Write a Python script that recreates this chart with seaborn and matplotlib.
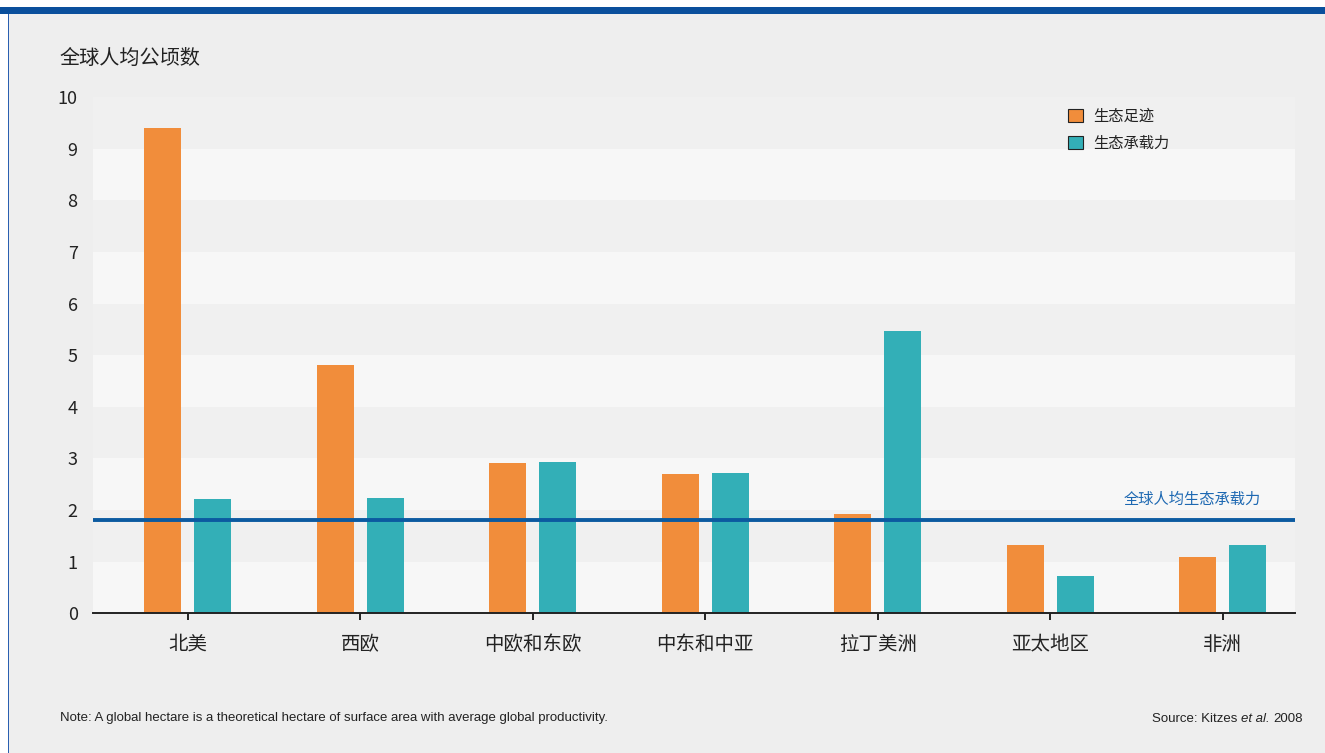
"""
生态足迹与生态承载力 - 按地区 (全球人均公顷数).
"""

import pandas as pd
import matplotlib
matplotlib.use("Agg")
import matplotlib.pyplot as plt
from matplotlib.patches import Patch, Rectangle
import seaborn as sns

# données
regions = ["北美", "西欧", "中欧和东欧", "中东和中亚", "拉丁美洲", "亚太地区", "非洲"]
footprint = [9.4, 4.81, 2.91, 2.70, 1.92, 1.32, 1.09]
biocapacity = [2.21, 2.23, 2.93, 2.72, 5.47, 0.72, 1.32]
series_names = ["生态足迹", "生态承载力"]
world_biocapacity = 1.8
yticks = list(range(0, 11))

ORANGE = "#f18d3b"
TEAL = "#33afb7"
BLUE_LINE = "#0b5aa0"
BLUE_TEXT = "#1d68b2"
BG = "#eeeeee"

sns.set_theme(style="white")
plt.rcParams["font.family"] = ["Noto Sans CJK SC", "DejaVu Sans"]

df = pd.DataFrame({
    "region": regions * 2,
    "value": footprint + biocapacity,
    "serie": [series_names[0]] * len(regions) + [series_names[1]] * len(regions),
})

fig = plt.figure(figsize=(13.25, 7.53), dpi=100, facecolor="white")

# panneau gris + cadre bleu
fig.patches.append(Rectangle((9 / 1325, 0), 1, 1 - 14 / 753, transform=fig.transFigure,
                             facecolor=BG, edgecolor="none", zorder=-10))
fig.patches.append(Rectangle((0, 1 - 14 / 753), 1, 7 / 753, transform=fig.transFigure,
                             facecolor="#0a4f9c", edgecolor="none", zorder=-9))
fig.patches.append(Rectangle((8 / 1325, 0), 1 / 1325, 1 - 14 / 753, transform=fig.transFigure,
                             facecolor="#2a5fb0", edgecolor="none", zorder=-9))

ax = fig.add_axes([93 / 1325, 1 - 613.3 / 753, (1295 - 93) / 1325, (613.3 - 97) / 753])
ax.set_facecolor("#f7f7f7")
for k in range(1, 10, 2):
    ax.axhspan(k, k + 1, color="#f0f0f0", zorder=0, lw=0)

sns.barplot(data=df, x="region", y="value", hue="serie", order=regions,
            hue_order=series_names, palette=[ORANGE, TEAL],
            width=0.58, gap=0.26, saturation=1, linewidth=0, edgecolor="none",
            ax=ax, zorder=2, legend=False)

ax.axhline(world_biocapacity, color=BLUE_LINE, lw=2.8, zorder=3)
ax.text(6.22, world_biocapacity + 0.25, "全球人均生态承载力", color=BLUE_TEXT,
        fontsize=11, ha="right", va="bottom", zorder=4)

ax.set_xlim(-0.55, 6.42)
ax.set_ylim(0, 10)
ax.set_yticks(yticks)
ax.set_xlabel("")
ax.set_ylabel("")
for s in ["top", "right", "left"]:
    ax.spines[s].set_visible(False)
ax.spines["bottom"].set_color("#222222")
ax.spines["bottom"].set_linewidth(1.4)
ax.tick_params(axis="x", length=5, width=1.4, color="#222222", pad=10,
               labelsize=14, labelcolor="#222222", bottom=True)
ax.tick_params(axis="y", length=0, pad=11, labelsize=13, labelcolor="#222222")

handles = [Patch(facecolor=ORANGE, edgecolor="#222222", lw=0.8),
           Patch(facecolor=TEAL, edgecolor="#222222", lw=0.8)]
leg = ax.legend(handles, series_names, loc="upper left",
                bbox_to_anchor=(1062 / 1325, 1 - 102 / 753), bbox_transform=fig.transFigure,
                frameon=False, fontsize=11, handlelength=0.95, handleheight=0.95,
                handletextpad=0.7, labelspacing=0.62, borderaxespad=0)
for t in leg.get_texts():
    t.set_color("#222222")

fig.text(60 / 1325, 1 - 58 / 753, "全球人均公顷数", fontsize=14.5, color="#222222",
         ha="left", va="center")

note_font = ["Liberation Sans", "DejaVu Sans"]
fig.text(60 / 1325, 1 - 718 / 753,
         "Note: A global hectare is a theoretical hectare of surface area with average global productivity.",
         fontsize=9.5, color="#222222", family=note_font, ha="left", va="center")
t3 = fig.text(1303 / 1325, 1 - 719 / 753, "2008", fontsize=9.5, color="#222222",
              family=note_font, ha="right", va="center")
t2 = fig.text(0, 0, "et al. ", fontsize=9.5, color="#222222", family=note_font,
              style="italic", ha="right", va="center")
t1 = fig.text(0, 0, "Source: Kitzes ", fontsize=9.5, color="#222222", family=note_font,
              ha="right", va="center")
fig.canvas.draw()
r = fig.canvas.get_renderer()
bb3 = t3.get_window_extent(r).transformed(fig.transFigure.inverted())
t2.set_position((bb3.x0, 1 - 719 / 753))
fig.canvas.draw()
bb2 = t2.get_window_extent(r).transformed(fig.transFigure.inverted())
t1.set_position((bb2.x0, 1 - 719 / 753))

fig.savefig("out.png", dpi=100, facecolor=fig.get_facecolor())
